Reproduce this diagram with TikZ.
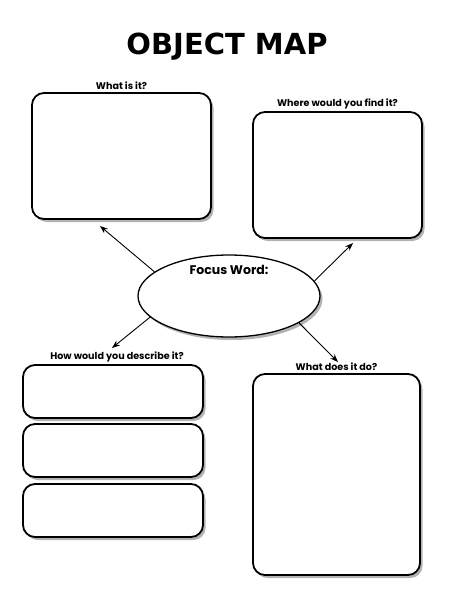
\documentclass[tikz,border=0pt]{standalone}
\usepackage{fontspec}
\setmainfont{Poppins}
\newfontfamily\titlefont{DejaVu Sans}
\usetikzlibrary{positioning,shadows,arrows.meta,shapes.geometric}
\tikzstyle{every node}=[inner sep=0pt]
\tikzstyle{box}=[draw=black,line width=1.8pt,rounded corners=12pt,fill=white,
  drop shadow={shadow xshift=2.5pt,shadow yshift=-3pt,opacity=0.6}]
\tikzstyle{lbl}=[font=\bfseries\fontsize{9.6}{10}\selectfont]
\tikzstyle{arr}=[-{Stealth[length=8pt,width=6pt]},line width=0.9pt]

\begin{document}
\begin{tikzpicture}[x=1pt,y=-1pt]
  \useasboundingbox (0,0) rectangle (456,591);
  \node[font=\titlefont\bfseries\fontsize{29}{30}\selectfont] (title) at (227,47) {OBJECT MAP};

  % the boxes
  \node[box,minimum width=179pt,minimum height=126pt] (whatis) at (121.5,156) {};
  \node[box,minimum width=169pt,minimum height=126pt] (where) at (337.5,175) {};
  \node[box,ellipse,line width=1.3pt,minimum width=182pt,minimum height=82pt] (focus) at (229,296) {};
  \node[box,minimum width=180pt,minimum height=53pt] (desca) at (113,391.5) {};
  \node[box,minimum width=180pt,minimum height=53pt] (descb) at (113,450.5) {};
  \node[box,minimum width=180pt,minimum height=53pt] (descc) at (113,510.5) {};
  \node[box,minimum width=167pt,minimum height=201pt] (whatdo) at (336.5,474.5) {};

  % labels
  \node[lbl,above=2pt of whatis] (whatislbl) {What is it?};
  \node[lbl,above=2pt of where] (wherelbl) {Where would you find it?};
  \node[lbl,above=2pt of desca,xshift=4pt] (desclbl) {How would you describe it?};
  \node[lbl,above=2pt of whatdo] (whatdolbl) {What does it do?};
  \node[font=\bfseries\fontsize{12.5}{13}\selectfont,below=11pt of focus.north] (focuslbl) {Focus Word:};

  % arrows
  \coordinate (tipa) at (100,226);
  \coordinate (tipb) at (353,243);
  \coordinate (tipc) at (112,348);
  \coordinate (tipd) at (338,362);
  \draw[arr] (focus.162) -- (tipa);
  \draw[arr] (focus.10) -- (tipb);
  \draw[arr] (focus.195) -- (tipc);
  \draw[arr] (focus.339) -- (tipd);
\end{tikzpicture}
\end{document}
